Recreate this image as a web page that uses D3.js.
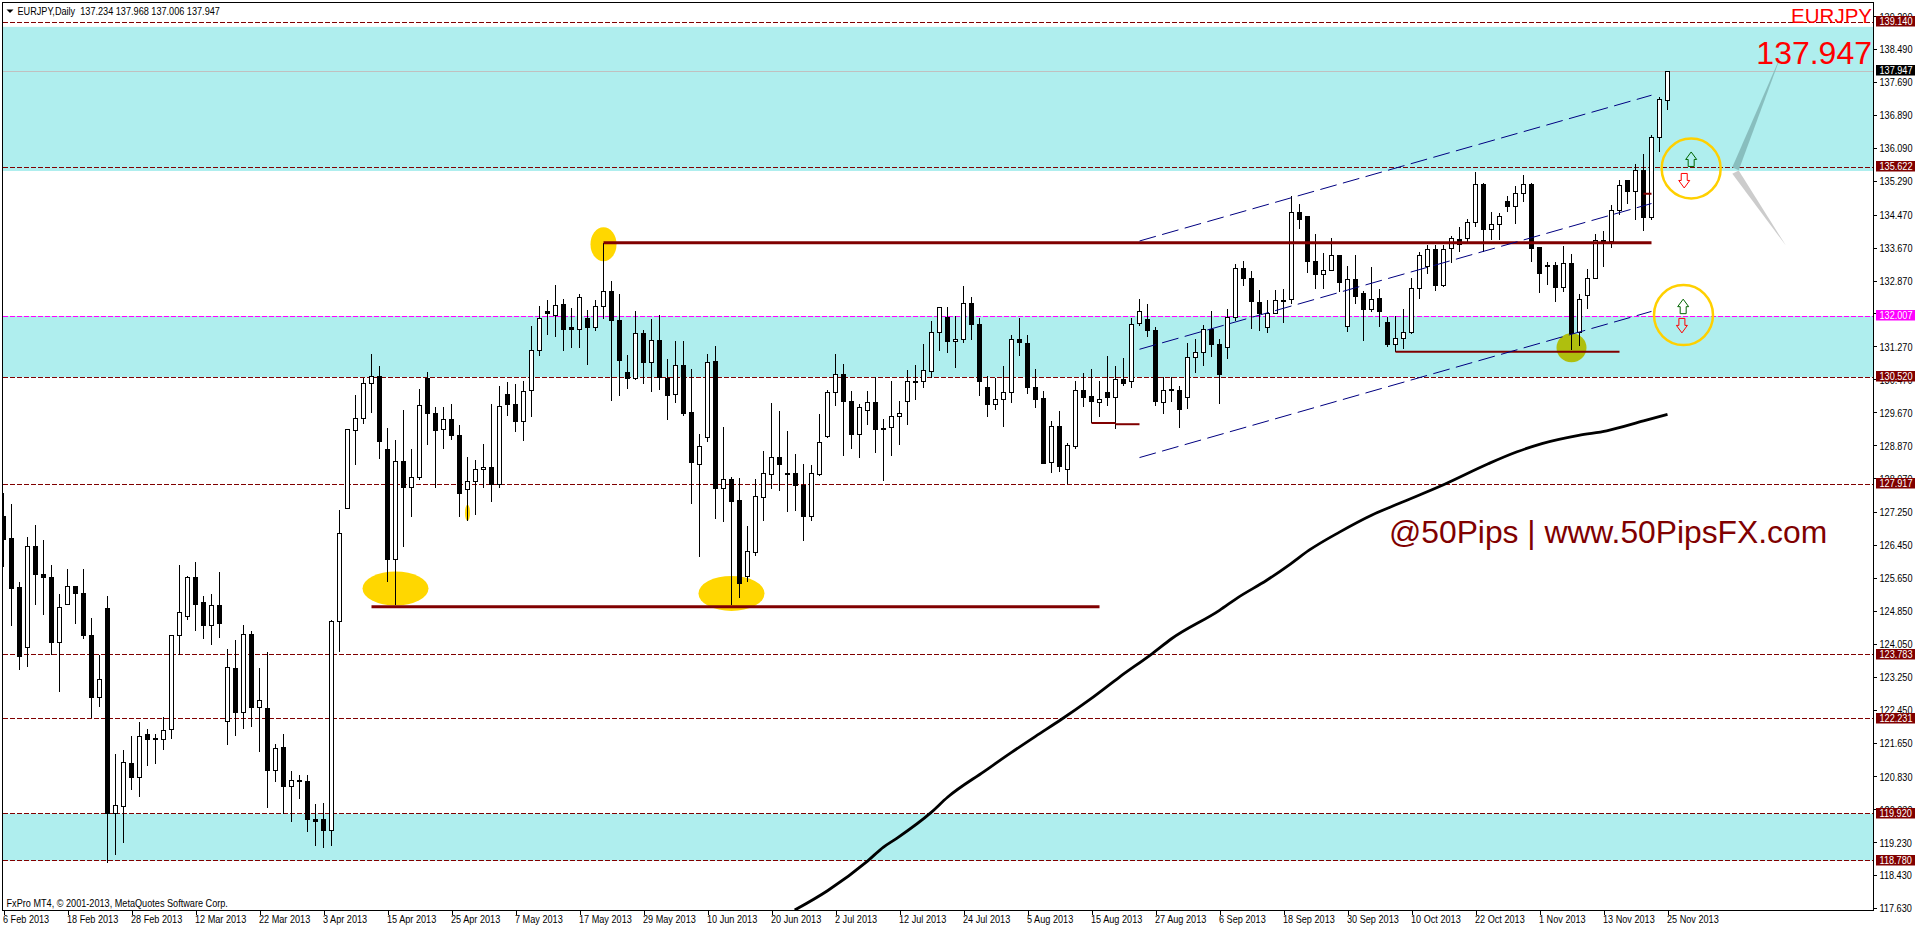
<!DOCTYPE html>
<html><head><meta charset="utf-8">
<script src="https://cdn.jsdelivr.net/npm/d3@7/dist/d3.min.js"></script>
<style>
html,body{margin:0;padding:0;background:#fff;overflow:hidden}
svg{display:block}
.small{font-family:"Liberation Sans",Arial,sans-serif;font-size:11px;fill:#000}
</style></head><body><svg id="c" width="1916" height="928"></svg>
<script>
const highs=[
127.70,127.45,125.55,126.63,126.93,126.56,125.95,125.26,125.87,125.44,
125.87,124.68,123.78,125.20,121.36,121.46,121.82,122.16,121.98,121.86,
122.27,124.25,125.95,125.69,126.03,125.22,125.25,125.78,123.93,124.13,
124.50,124.37,123.45,123.84,121.62,121.86,120.95,120.85,120.87,120.15,
120.17,124.63,127.29,129.25,130.08,130.51,131.09,130.79,129.30,129.00,
129.73,128.77,130.24,130.66,129.81,129.80,129.88,129.35,128.58,128.50,
128.91,129.88,130.32,130.40,130.35,130.42,131.76,132.24,132.39,132.75,
132.41,132.20,132.54,132.15,132.39,133.79,132.85,132.55,131.05,132.12,
131.68,131.94,132.04,130.97,131.39,131.39,130.72,129.15,131.09,131.29,
129.32,128.10,128.08,126.92,128.06,128.74,129.90,129.69,129.21,128.65,
128.42,128.38,129.64,130.22,131.09,130.85,130.18,129.86,130.18,130.53,
129.50,130.42,129.94,130.69,130.81,131.34,131.88,132.23,132.22,132.00,
132.73,132.46,131.97,130.56,130.51,130.79,131.54,131.96,131.54,130.72,
130.18,129.45,129.69,128.92,130.44,130.63,130.72,130.42,131.03,130.79,
131.00,131.96,132.41,132.29,131.73,130.53,130.52,130.31,131.36,131.46,
131.80,132.12,131.46,132.19,133.28,133.35,133.09,132.63,132.39,132.63,
132.67,134.93,134.72,134.43,133.99,133.55,133.91,133.49,133.22,133.49,
132.61,133.20,132.67,131.99,132.00,132.17,132.94,133.56,133.73,133.74,
133.73,133.95,134.16,134.36,135.50,135.24,134.54,134.50,134.92,135.16,
135.43,135.25,133.67,133.32,133.31,133.70,133.51,132.54,133.14,133.99,
134.07,134.70,135.31,135.32,135.70,135.94,136.40,137.32,137.968];
const lows=[
125.91,124.48,123.40,123.48,124.98,124.74,123.78,122.88,124.98,124.53,
124.16,122.24,122.51,118.72,118.93,119.21,120.49,120.32,121.09,121.12,
121.46,121.73,123.78,124.62,124.35,124.16,124.03,124.18,121.60,121.80,
121.99,122.02,121.43,120.05,120.70,119.92,119.73,120.27,119.47,119.13,
119.08,119.13,123.84,127.33,128.40,129.38,129.66,128.54,125.55,124.98,
126.41,127.13,128.03,128.87,127.83,128.77,128.99,127.13,127.02,127.17,
127.83,127.48,127.83,129.57,129.18,128.97,129.56,131.03,131.54,131.50,
131.15,131.24,131.24,130.81,131.64,131.93,129.94,130.06,130.23,130.45,
130.35,130.16,130.22,129.48,129.90,129.57,127.45,126.15,128.95,127.08,
127.00,124.98,125.16,125.56,126.17,127.02,127.81,127.76,127.25,127.27,
126.54,127.02,128.13,129.05,129.82,128.62,128.79,128.56,129.35,128.67,
128.00,128.60,128.87,129.36,129.98,130.25,130.50,131.17,131.11,130.75,
131.35,131.43,130.07,129.55,129.72,129.31,129.90,131.04,130.11,129.77,
128.41,128.19,128.22,127.94,128.78,129.80,129.41,129.55,129.82,129.27,
130.31,130.26,131.77,131.50,129.82,129.63,129.92,129.28,129.74,130.62,
130.80,131.01,129.87,130.97,131.88,132.73,131.69,131.64,131.60,132.05,
131.84,132.30,134.12,133.05,132.66,132.66,133.10,132.58,131.62,132.30,
131.40,132.11,131.74,131.26,131.13,131.21,131.58,132.43,133.02,132.62,
132.72,133.30,133.57,133.81,134.17,133.57,133.85,133.85,134.53,134.25,
134.78,133.32,132.57,132.76,132.35,132.59,131.18,131.27,132.17,132.90,
133.20,133.65,134.46,134.72,134.33,134.08,134.34,135.99,137.006];
const opens=[
127.14,126.60,125.41,123.95,126.41,125.73,125.65,124.09,125.01,125.44,
125.26,124.25,122.75,124.90,119.92,120.10,121.13,120.81,121.84,121.74,
121.73,121.96,124.25,124.70,125.65,125.05,124.48,124.97,122.15,123.44,
122.39,124.27,122.51,122.47,120.98,121.52,120.57,120.72,120.70,119.77,
119.77,119.52,124.60,127.33,129.22,129.51,130.37,130.55,128.76,126.09,
128.47,127.84,128.08,130.50,129.64,129.25,129.49,129.11,127.79,128.00,
128.27,128.33,127.91,130.10,129.86,129.44,130.19,131.16,132.11,132.03,
132.29,131.73,131.69,131.95,131.72,132.24,132.60,131.90,130.63,130.48,
131.58,130.89,131.41,130.50,130.09,130.80,129.67,128.40,129.05,130.90,
127.81,128.03,127.53,125.67,126.27,127.61,128.17,128.57,128.18,128.18,
127.90,127.13,128.17,129.07,130.15,130.59,129.94,129.14,129.71,129.90,
129.27,129.29,129.56,129.94,130.41,130.41,130.67,131.60,131.96,131.38,
131.43,132.31,131.80,130.27,129.87,129.97,130.14,131.44,131.34,130.27,
130.01,128.45,129.32,128.28,128.85,130.19,130.05,129.90,130.15,130.04,
130.46,130.41,131.82,131.92,131.66,129.91,130.22,130.20,130.04,131.01,
131.11,131.69,131.32,131.24,131.97,133.16,132.92,132.34,131.74,132.06,
132.39,132.41,134.52,134.43,133.33,133.01,133.11,133.48,131.75,132.89,
132.55,132.16,132.43,131.85,131.32,131.46,131.61,132.68,133.21,133.62,
132.74,133.64,133.87,133.88,134.27,135.20,134.10,134.22,134.79,134.66,
134.98,135.20,133.66,133.24,133.23,132.69,133.28,131.60,132.50,132.92,
133.85,133.81,134.56,135.31,135.02,135.54,134.39,136.34,137.234];
const closes=[
126.58,125.40,123.73,126.41,125.72,125.65,124.07,124.92,125.44,125.26,
124.24,122.75,123.19,119.92,120.11,121.16,120.81,121.79,121.73,121.73,
121.95,124.25,124.80,125.65,125.01,124.48,124.97,124.55,123.47,122.39,
124.27,122.51,122.66,120.98,121.50,120.57,120.72,120.71,119.79,119.74,
119.52,124.58,126.72,129.25,129.52,130.37,130.53,128.97,126.10,128.47,
127.84,128.08,129.83,129.63,129.22,129.49,129.10,127.69,128.00,128.28,
128.33,127.91,129.81,129.85,129.44,130.17,131.17,131.95,132.08,132.26,
131.69,131.69,132.46,131.72,132.24,132.60,131.90,130.93,130.50,131.58,
130.89,131.41,130.51,130.08,130.80,129.65,128.44,128.85,130.89,127.82,
128.03,127.51,125.52,126.29,127.63,128.18,128.57,128.41,128.16,127.88,
127.13,128.18,128.93,130.15,130.59,129.92,129.14,129.78,129.90,129.24,
129.24,129.56,129.64,130.41,130.41,130.68,131.60,132.21,131.38,131.44,
132.31,131.79,130.41,129.87,129.98,130.15,131.44,131.36,130.28,129.99,
128.43,129.32,128.35,128.86,130.19,130.04,129.92,129.98,130.04,130.46,
130.37,131.79,132.11,131.65,129.92,130.19,130.19,129.74,130.99,131.11,
131.67,131.31,130.58,131.97,133.16,132.91,132.35,132.08,132.06,132.38,
132.38,134.52,134.34,133.32,133.01,133.11,133.48,132.81,132.89,132.49,
132.16,132.41,132.11,131.31,131.46,131.61,132.68,133.48,133.62,132.74,
133.62,133.89,133.74,134.28,135.20,134.10,134.22,134.42,134.66,134.98,
135.20,133.64,133.03,133.23,132.69,133.28,131.58,132.41,132.92,133.83,
133.81,134.57,135.18,135.02,135.54,134.39,136.34,137.27,137.947];
const maBars=[98.9,103,108,110,111.7,116,118,122.6,126,129,132.3,135.9,139.5,143.6,146,152,154.3,157.9,160.9,163.2,167,171,174.5,180,185.6,189.2,192.3,196.9,200.4,205,208];
const maValues=[117.58,118.05,118.77,119.11,119.33,119.96,120.32,120.95,121.41,121.80,122.22,122.71,123.24,123.81,124.17,124.86,125.17,125.59,125.99,126.32,126.76,127.17,127.46,127.91,128.42,128.71,128.91,129.11,129.22,129.46,129.62];
const dateTicks=["6 Feb 2013","18 Feb 2013","28 Feb 2013","12 Mar 2013","22 Mar 2013","3 Apr 2013","15 Apr 2013","25 Apr 2013","7 May 2013","17 May 2013","29 May 2013","10 Jun 2013","20 Jun 2013","2 Jul 2013","12 Jul 2013","24 Jul 2013","5 Aug 2013","15 Aug 2013","27 Aug 2013","6 Sep 2013","18 Sep 2013","30 Sep 2013","10 Oct 2013","22 Oct 2013","1 Nov 2013","13 Nov 2013","25 Nov 2013"];
const priceTicks=[139.29,138.49,137.69,136.89,136.09,135.29,134.47,133.67,132.87,132.07,131.27,130.47,129.67,128.87,128.07,127.25,126.45,125.65,124.85,124.05,123.25,122.45,121.65,120.83,120.03,119.23,118.43,117.63];
const zones=[[139.03,135.53],[132.007,130.52],[119.92,118.78]];
const darkLevels=[139.14,135.622,130.52,127.917,123.783,122.231,119.92,118.78];
const magentaLevel=132.007, lastPrice=137.947;
const thickLines=[[75,206,133.79,133.79,3],[46,137,124.95,124.95,3],[174,202,131.14,131.14,2],[136,139,129.41,129.41,2],[139,142,129.38,129.38,2],[205,206,134.98,134.98,2]];
const channels=[[142,206,133.83,137.37],[142,206,131.20,134.74],[142,206,128.57,132.12]];
const blobs=[[75,133.75,13,17,"#FFD700"],[49,125.39,33,17,"#FFD700"],[91,125.27,33,17.5,"#FFD700"],[58,127.23,2.5,8,"#FFD700"],[196,131.24,15,14.5,"#AFBF0E"]];
const rings=[[210.96,135.59],[210,132.03]];
const upArrows=[[210.96,135.81],[209.96,132.235]];
const downArrows=[[210.09,135.30],[209.8,131.78]];
const fanUp=[[222.3,138.39],[216.1,135.62],[216.9,135.55]];
const fanDown=[[222.8,133.72],[216.1,135.46],[216.9,135.54]];

const W=1916,H=928,L=2.5,R=1873.5,T=2.5,B=910.5;
const x=d3.scaleLinear().domain([0,208]).range([3.5,1667.5]);
const y=d3.scaleLinear().domain([117.57,139.622]).range([B,T]);
const yc=p=>Math.round(y(p)-.5)+.5;
const svg=d3.select("#c");
svg.append("defs").append("clipPath").attr("id","plot").append("rect").attr("x",L).attr("y",T).attr("width",R-L).attr("height",B-T);
const g=svg.append("g").attr("clip-path","url(#plot)");

g.selectAll(".zone").data(zones).join("rect").attr("x",L).attr("width",R-L)
 .attr("y",d=>y(d[0])).attr("height",d=>y(d[1])-y(d[0])).attr("fill","#AFEEEE");
g.append("line").attr("x1",L).attr("x2",R).attr("y1",yc(lastPrice)).attr("y2",yc(lastPrice)).attr("stroke","#c0c0c0");
g.selectAll(".lvl").data(darkLevels).join("line").attr("x1",L).attr("x2",R).attr("y1",yc).attr("y2",yc)
 .attr("stroke","#800000").attr("stroke-dasharray","5 2").attr("shape-rendering","crispEdges");
g.append("line").attr("x1",L).attr("x2",R).attr("y1",yc(magentaLevel)).attr("y2",yc(magentaLevel))
 .attr("stroke","#FF00FF").attr("stroke-dasharray","5 2").attr("shape-rendering","crispEdges");
g.selectAll(".blob").data(blobs).join("ellipse").attr("cx",d=>x(d[0])).attr("cy",d=>y(d[1])).attr("rx",d=>d[2]).attr("ry",d=>d[3]).attr("fill",d=>d[4]);

const idx=d3.range(opens.length);
const cg=g.append("g").attr("shape-rendering","crispEdges");
cg.selectAll(".w").data(idx).join("line").attr("x1",x).attr("x2",x)
 .attr("y1",i=>y(highs[i])).attr("y2",i=>y(lows[i])).attr("stroke","#000");
cg.selectAll(".b").data(idx).join("rect")
 .each(function(i){
   const up=closes[i]>opens[i], t=yc(Math.max(opens[i],closes[i])), b=yc(Math.min(opens[i],closes[i])), h=Math.max(b-t,1);
   const s=d3.select(this);
   if(up) s.attr("x",x(i)-2).attr("width",4).attr("y",t).attr("height",h).attr("fill","#fff").attr("stroke","#000");
   else s.attr("x",x(i)-2.5).attr("width",5).attr("y",t-.5).attr("height",h+1).attr("fill","#000");
 });

g.append("path").datum(maBars).attr("fill","none").attr("stroke","#000").attr("stroke-width",2.8)
 .attr("d",d3.line().x(b=>x(b)).y((b,i)=>y(maValues[i])).curve(d3.curveMonotoneX));

g.selectAll(".thick").data(thickLines).join("line").attr("x1",d=>x(d[0])).attr("x2",d=>x(d[1]))
 .attr("y1",d=>y(d[2])).attr("y2",d=>y(d[3])).attr("stroke","#800000").attr("stroke-width",d=>d[4]);
g.selectAll(".chan").data(channels).join("line").attr("x1",d=>x(d[0])).attr("x2",d=>x(d[1]))
 .attr("y1",d=>y(d[2])).attr("y2",d=>y(d[3])).attr("stroke","#000080").attr("stroke-dasharray","17 6.5");

g.selectAll(".ring").data(rings).join("ellipse").attr("cx",d=>x(d[0])).attr("cy",d=>y(d[1])).attr("rx",29.5).attr("ry",30)
 .attr("fill","none").attr("stroke","#FFD000").attr("stroke-width",2.5);
const upShape="M0,-7.5L5.5,0L3,0L3,7L-3,7L-3,0L-5.5,0Z", downShape="M0,7.5L5.5,0L3,0L3,-7L-3,-7L-3,0L-5.5,0Z";
g.selectAll(".ua").data(upArrows).join("path").attr("d",upShape).attr("transform",d=>`translate(${x(d[0])},${y(d[1])})`).attr("fill","none").attr("stroke","#006400");
g.selectAll(".da").data(downArrows).join("path").attr("d",downShape).attr("transform",d=>`translate(${x(d[0])},${y(d[1])})`).attr("fill","none").attr("stroke","#FF0000");
const poly=d3.line().x(d=>x(d[0])).y(d=>y(d[1]));
g.append("path").attr("d",poly(fanUp)+"Z").attr("fill","#88BEBE");
g.append("path").attr("d",poly(fanDown)+"Z").attr("fill","#CCCCCC");

// corner texts
g.append("text").attr("x",1872).attr("y",22.5).attr("text-anchor","end").attr("fill","#FF0000")
 .style("font","20.5px 'Liberation Sans',Arial,sans-serif").text("EURJPY");
g.append("text").attr("x",1872).attr("y",63.5).attr("text-anchor","end").attr("fill","#FF0000")
 .style("font","32px 'Liberation Sans',Arial,sans-serif").text("137.947");
g.append("text").attr("x",1389).attr("y",542.5).attr("fill","#800000")
 .style("font","31.8px 'Liberation Sans',Arial,sans-serif").text("@50Pips | www.50PipsFX.com");
g.append("path").attr("d","M6.5,9.5L13.5,9.5L10,13Z").attr("fill","#000");
g.append("text").attr("class","small").attr("x",17.5).attr("y",15).attr("xml:space","preserve").text("EURJPY,Daily  137.234 137.968 137.006 137.947");
g.append("text").attr("class","small").attr("x",6.5).attr("y",906.5).text("FxPro MT4, © 2001-2013, MetaQuotes Software Corp.");

// frame
svg.append("rect").attr("x",L).attr("y",T).attr("width",R-L).attr("height",B-T).attr("fill","none").attr("stroke","#000").attr("shape-rendering","crispEdges");

// axes
const tickIdx=dateTicks.map((d,i)=>i*8);
const ax=svg.append("g").attr("transform",`translate(0,${B})`)
 .call(d3.axisBottom(x).tickValues(tickIdx).tickSize(4).tickFormat((d,i)=>dateTicks[i]));
ax.select(".domain").remove();
ax.selectAll("text").attr("class","small").attr("text-anchor","start").attr("x",-1).attr("y",12.5).attr("dy",0);
const ay=svg.append("g").attr("transform",`translate(${R},0)`)
 .call(d3.axisRight(y).tickValues(priceTicks).tickSize(3).tickFormat(d3.format(".3f")));
ay.select(".domain").remove();
ay.selectAll("text").attr("class","small").attr("x",6).attr("dy",".35em");
ax.selectAll("line").attr("shape-rendering","crispEdges");ay.selectAll("line").attr("shape-rendering","crispEdges");

// price boxes
const boxes=darkLevels.map(p=>[p,"#800000"]).concat([[magentaLevel,"#FF00FF"],[lastPrice,"#000"]]);
const bg=svg.append("g").selectAll("g").data(boxes).join("g").attr("transform",d=>`translate(1876,${Math.round(y(d[0]))-6})`);
bg.append("rect").attr("width",39).attr("height",10.5).attr("fill",d=>d[1]);
bg.append("text").attr("class","small").style("fill","#fff").attr("x",3.5).attr("y",9).text(d=>d[0].toFixed(3));

// the chart's small type is a condensed face: squeeze the installed sans to the same width
svg.selectAll("text.small").each(function(){
  const n=this.getComputedTextLength();
  d3.select(this).attr("textLength",n*0.83).attr("lengthAdjust","spacingAndGlyphs");
});
</script></body></html>
